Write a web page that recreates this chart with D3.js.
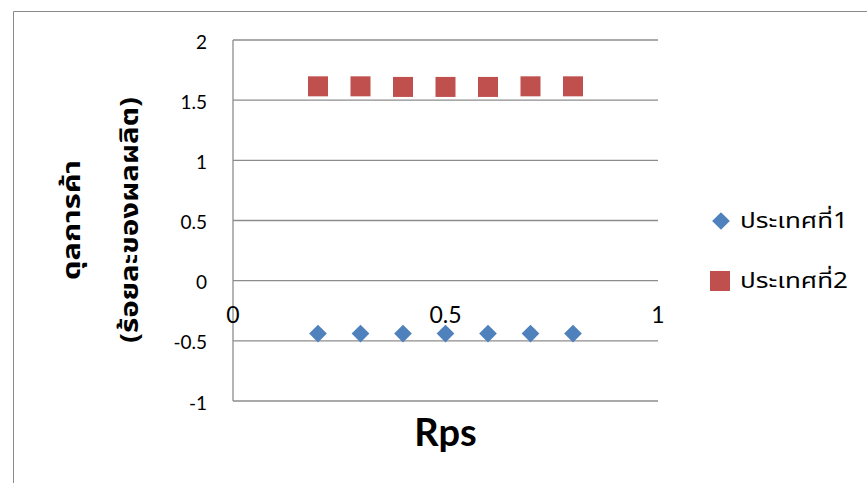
<!DOCTYPE html>
<html>
<head>
<meta charset="utf-8">
<script src="https://cdn.jsdelivr.net/npm/d3@7"></script>
<style>
  html, body { margin: 0; padding: 0; background: #fff; }
  svg { display: block; }
  .tick-label { font-family: Lato, "Open Sans", "Liberation Sans", sans-serif; fill: #000; }
  .thai { font-family: "Noto Sans Thai", "Noto Sans", "DejaVu Sans", sans-serif; }
</style>
</head>
<body>
<svg id="chart" width="867" height="483"></svg>
<script>
// Trade balance vs Rps for two countries
const rps = [0.2, 0.3, 0.4, 0.5, 0.6, 0.7, 0.8];
const country1 = [-0.44, -0.44, -0.44, -0.44, -0.44, -0.44, -0.44];
const country2 = [1.615, 1.615, 1.61, 1.61, 1.61, 1.615, 1.615];
const seriesNames = ["ประเทศที่1", "ประเทศที่2"];
const xTicks = [0, 0.5, 1];
const yTicks = [-1, -0.5, 0, 0.5, 1, 1.5, 2];
const yTitle = ["ดุลการค้า", "(ร้อยละของผลผลิต)"];
const xTitle = "Rps";

const svg = d3.select("#chart");
const margin = { left: 233, right: 209, top: 40, bottom: 82 };
const W = 867, H = 483;

const x = d3.scaleLinear().domain([0, 1]).range([margin.left, W - margin.right]);
const y = d3.scaleLinear().domain([-1, 2]).range([H - margin.bottom, margin.top]);

// outer chart frame
svg.append("path")
  .attr("d", `M13.5,${H + 5} L13.5,11.5 L${W + 5},11.5`)
  .attr("fill", "none").attr("stroke", "#8a8a8a").attr("stroke-width", 1);

// horizontal gridlines
svg.append("g").selectAll("line").data(yTicks).join("line")
  .attr("x1", x(0)).attr("x2", x(1))
  .attr("y1", d => y(d)).attr("y2", d => y(d))
  .attr("stroke", "#8c8c8c").attr("stroke-width", 1.3);

// vertical value axis line
svg.append("line")
  .attr("x1", x(0)).attr("x2", x(0))
  .attr("y1", y(2)).attr("y2", y(-1))
  .attr("stroke", "#8c8c8c").attr("stroke-width", 1.3);

// y tick labels
svg.append("g").selectAll("text").data(yTicks).join("text")
  .attr("class", "tick-label")
  .attr("x", x(0) - 26).attr("y", d => y(d) + 1)
  .attr("text-anchor", "end").attr("dominant-baseline", "central")
  .attr("font-size", 19)
  .text(d => d);

// x tick labels, sitting just below the zero line
svg.append("g").selectAll("text").data(xTicks).join("text")
  .attr("class", "tick-label")
  .attr("x", d => x(d)).attr("y", y(0) + 42)
  .attr("text-anchor", "middle")
  .attr("font-size", 23)
  .text(d => d);

// series markers
const diamond = d3.symbol().type(d3.symbolDiamond2).size(200);
svg.append("g").selectAll("path").data(rps).join("path")
  .attr("d", diamond)
  .attr("transform", (d, i) => `translate(${x(d)},${y(country1[i])})`)
  .attr("fill", "#4F81BD");

svg.append("g").selectAll("rect").data(rps).join("rect")
  .attr("x", d => x(d) - 10).attr("y", (d, i) => y(country2[i]) - 10)
  .attr("width", 20).attr("height", 20)
  .attr("fill", "#C0504D");

// axis titles
svg.append("text")
  .attr("x", x(0.5)).attr("y", 446)
  .attr("text-anchor", "middle")
  .attr("font-family", "Lato, 'Open Sans', sans-serif")
  .attr("font-weight", "bold").attr("font-size", 38)
  .text(xTitle);

const yt = svg.append("text")
  .attr("class", "thai")
  .attr("transform", "translate(0,220) rotate(-90)")
  .attr("text-anchor", "middle")
  .attr("font-weight", "bold").attr("font-size", 25);
yt.append("tspan").attr("x", 0).attr("y", 80)
  .attr("textLength", 120).attr("lengthAdjust", "spacingAndGlyphs")
  .text(yTitle[0]);
yt.append("tspan").attr("x", 0).attr("y", 138)
  .attr("textLength", 246).attr("lengthAdjust", "spacingAndGlyphs")
  .text(yTitle[1]);

// legend
const legend = svg.append("g");
legend.append("path")
  .attr("d", diamond)
  .attr("transform", "translate(721,221)")
  .attr("fill", "#4F81BD");
legend.append("rect")
  .attr("x", 710).attr("y", 271).attr("width", 20).attr("height", 20)
  .attr("fill", "#C0504D");
legend.selectAll("text").data(seriesNames).join("text")
  .attr("class", "thai")
  .attr("x", 740).attr("y", (d, i) => 221 + i * 60)
  .attr("dominant-baseline", "central")
  .attr("font-size", 22)
  .attr("textLength", 108).attr("lengthAdjust", "spacingAndGlyphs")
  .text(d => d);
</script>
</body>
</html>
